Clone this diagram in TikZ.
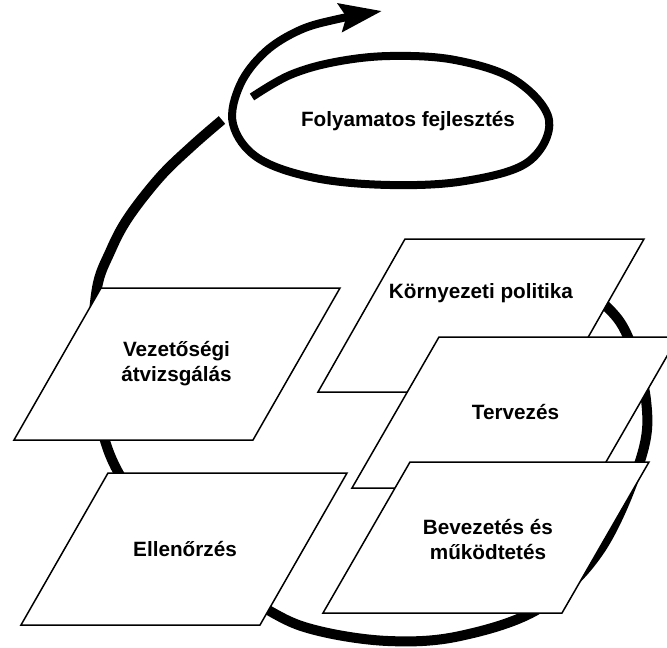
\documentclass[tikz,border=0pt]{standalone}
\usepackage{fontspec}
\setmainfont{Liberation Sans}
\usetikzlibrary{arrows.meta}

\begin{document}
\begin{tikzpicture}[
    x=1pt, y=-1pt,
    card/.style={
        draw,
        fill=white,
        line width=1.5pt,
        line join=miter
    },
    lbl/.style={
        align=center,
        font=\bfseries\fontsize{20.7}{25}\selectfont
    },
    cycle/.style={
        line width=10pt
    },
    spiral/.style={
        line width=8pt,
        -{Stealth[length=42pt,width=28pt,inset=6pt]}
    }
]
\clip (0,0) rectangle (667,648);

% the big loop behind the cards
\draw[cycle] plot[smooth, tension=0.6] coordinates {
    (565,275) (605,305) (628,337) (646,400) (641,458) (600,550)
    (540,608) (460,636) (388,641) (315,630) (268,610) (200,565)
    (150,515) (117,470) (100,420) (93,350) (97,288) (110,252)
    (128,218) (160,177) (192,146) (222,120)};

% improvement loop with arrow
\draw[spiral] plot[smooth, tension=0.6] coordinates {
    (252,97) (290,75) (335,62) (390,56) (455,60) (515,80) (549,120)
    (528,162) (465,181) (390,185) (315,178) (258,158) (233,124)
    (240,85) (265,52) (300,30) (338,19) (382,11)};
\node[lbl] (improve) at (408,121) {Folyamatos fejlesztés};

% cards
\draw[card] (101,288) -- ++(239,0) -- ++(-87,152) -- ++(-239,0) -- cycle;
\node[lbl] (review) at (176.5,364) {Vezetőségi\\átvizsgálás};

\draw[card] (108,473) -- ++(239,0) -- ++(-87,152) -- ++(-239,0) -- cycle;
\node[lbl] (check) at (185,549) {Ellenőrzés};

\draw[card] (405,239) -- ++(239,0) -- ++(-87,153) -- ++(-239,0) -- cycle;
\node[lbl] (policy) at (481,293.5) {Környezeti politika};

\draw[card] (439,337) -- ++(239,0) -- ++(-87,151) -- ++(-239,0) -- cycle;
\node[lbl] (plan) at (515.5,412.5) {Tervezés};

\draw[card] (410,462) -- ++(239,0) -- ++(-87,151) -- ++(-239,0) -- cycle;
\node[lbl] (operate) at (488,540) {Bevezetés és\\működtetés};

\end{tikzpicture}
\end{document}
